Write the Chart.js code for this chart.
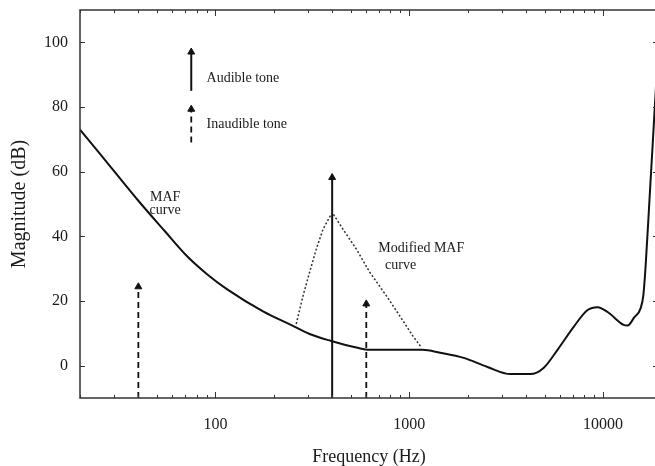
<!DOCTYPE html>
<html lang="en">
<head>
<meta charset="UTF-8" />
<title>MAF curve and masking</title>
<script src="https://cdn.jsdelivr.net/npm/chart.js@4"></script>
<style>
  html, body { margin: 0; padding: 0; background: #fff; overflow: hidden; }
  #wrap { position: absolute; left: 0; top: 0; width: 663px; height: 466px; }
</style>
</head>
<body>
<div id="wrap"><canvas id="chart"></canvas></div>
<script>
// MAF (threshold in quiet) curve
const mafFreq = [20, 25.3, 40, 55, 71, 90.5, 115, 176, 245, 306, 392, 534, 625, 792, 1170, 1440, 1908, 2530, 3327, 4220, 4930, 5820, 7050, 8320, 9370, 10550, 12760, 13380, 14500, 15630, 16150, 16580, 17190, 17600, 18030, 18460, 18910, 19200];
const mafDb   = [73, 65.6, 51, 41.5, 34, 28.3, 23.6, 16.8, 12.6, 9.8, 7.7, 5.6, 4.9, 4.9, 4.9, 4, 2.4, -0.4, -2.6, -2.6, -0.7, 4.9, 12, 17.2, 18.1, 16.6, 12.6, 12.4, 15, 17.8, 22, 31, 47, 57.8, 68.6, 79.4, 90.2, 97];

// modified MAF curve (masking by the 400 Hz tone)
const modFreq = [261, 283, 306, 331, 359, 400, 455, 534, 625, 762, 893, 1043, 1156];
const modDb   = [12.9, 21.6, 28.9, 36, 42.2, 47.4, 42.2, 36, 28.9, 21.6, 15.4, 9.2, 5.6];

// tones drawn as arrows from the bottom of the plot
const toneFreq    = [40, 400, 600];
const toneTop     = [24.4, 58.2, 19.1];
const toneAudible = [false, true, false];

// key arrows (top left)
const keyFreq = 75;
const keyAudible   = [85, 97];
const keyInaudible = [69, 79.3];

const yTicks = [0, 20, 40, 60, 80, 100];
const xTicks = [100, 1000, 10000];
const xMinor = [20, 30, 40, 50, 60, 70, 80, 90, 200, 300, 400, 500, 600, 700, 800, 900,
                2000, 3000, 4000, 5000, 6000, 7000, 8000, 9000];

const INK = '#111';

function arrow(freq, bottom, top, solid) {
  return {
    data: [{ x: freq, y: bottom }, { x: freq, y: top }],
    borderColor: INK,
    borderWidth: solid ? 2 : 1.8,
    borderDash: solid ? [] : [6, 4],
    pointStyle: 'triangle',
    pointRadius: [0, 4],
    pointBackgroundColor: INK,
    pointBorderColor: INK,
    pointBorderWidth: 1,
    tension: 0
  };
}

const datasets = [
  {
    data: mafFreq.map((f, i) => ({ x: f, y: mafDb[i] })),
    borderColor: INK,
    borderWidth: 2,
    pointRadius: 0,
    cubicInterpolationMode: 'monotone'
  },
  {
    data: modFreq.map((f, i) => ({ x: f, y: modDb[i] })),
    borderColor: '#333',
    borderWidth: 1.5,
    borderDash: [2, 2],
    pointRadius: 0,
    tension: 0
  }
];
toneFreq.forEach((f, i) => datasets.push(arrow(f, -10, toneTop[i], toneAudible[i])));
datasets.push(arrow(keyFreq, keyAudible[0], keyAudible[1], true));
datasets.push(arrow(keyFreq, keyInaudible[0], keyInaudible[1], false));

// text notes, placed in data units
const notes = [
  { text: 'Audible tone',   x: 90,  y: 89,   align: 'left' },
  { text: 'Inaudible tone', x: 90,  y: 74.5, align: 'left' },
  { text: 'MAF',            x: 55,  y: 52.2, align: 'center' },
  { text: 'curve',          x: 55,  y: 47.9, align: 'center' },
  { text: 'Modified MAF',   x: 692, y: 36.4, align: 'left' },
  { text: 'curve',          x: 750, y: 31.1, align: 'left' }
];

// frame with inward ticks on all four sides, plus the notes
const framePlugin = {
  id: 'frame',
  afterDraw(chart) {
    const { ctx, chartArea: a, scales: { x, y } } = chart;
    ctx.save();
    ctx.strokeStyle = '#333';
    ctx.lineWidth = 1.5;
    ctx.strokeRect(a.left, a.top, a.right - a.left, a.bottom - a.top);

    ctx.lineWidth = 1;
    ctx.beginPath();
    const xt = (v, len) => {
      const px = Math.round(x.getPixelForValue(v)) + 0.5;
      ctx.moveTo(px, a.bottom); ctx.lineTo(px, a.bottom - len);
      ctx.moveTo(px, a.top); ctx.lineTo(px, a.top + len);
    };
    xMinor.forEach(v => xt(v, 3));
    xTicks.forEach(v => xt(v, 6));
    yTicks.forEach(v => {
      const py = Math.round(y.getPixelForValue(v)) + 0.5;
      ctx.moveTo(a.left, py); ctx.lineTo(a.left + 5, py);
      ctx.moveTo(a.right, py); ctx.lineTo(a.right - 5, py);
    });
    ctx.stroke();

    ctx.fillStyle = '#1a1a1a';
    ctx.font = '14px "Liberation Serif"';
    ctx.textBaseline = 'middle';
    notes.forEach(n => {
      ctx.textAlign = n.align;
      ctx.fillText(n.text, x.getPixelForValue(n.x), y.getPixelForValue(n.y));
    });
    ctx.restore();
  }
};

new Chart(document.getElementById('chart'), {
  type: 'line',
  data: { datasets },
  options: {
    responsive: true,
    maintainAspectRatio: false,
    animation: false,
    layout: { padding: { top: 10, right: 0, bottom: 0, left: 0 } },
    plugins: { legend: { display: false }, tooltip: { enabled: false } },
    scales: {
      x: {
        type: 'logarithmic',
        min: 20,
        max: 19200,
        afterBuildTicks: s => { s.ticks = xTicks.map(v => ({ value: v })); },
        afterFit: s => { s.height = 68; },
        grid: { display: false },
        border: { display: false },
        ticks: {
          autoSkip: false,
          maxRotation: 0,
          padding: 9,
          color: '#1a1a1a',
          font: { family: 'Liberation Serif', size: 16 },
          callback: v => String(v)
        },
        title: {
          display: true,
          text: 'Frequency (Hz)',
          color: '#1a1a1a',
          font: { family: 'Liberation Serif', size: 18, lineHeight: 1 },
          padding: { top: 0, bottom: 0 }
        }
      },
      y: {
        min: -10,
        max: 110,
        afterBuildTicks: s => { s.ticks = yTicks.map(v => ({ value: v })); },
        afterFit: s => { s.width = 80; s.paddingTop = 0; s.paddingBottom = 0; },
        grid: { display: false },
        border: { display: false },
        ticks: {
          padding: 4,
          color: '#1a1a1a',
          font: { family: 'Liberation Serif', size: 16 }
        },
        title: {
          display: true,
          text: 'Magnitude (dB)',
          color: '#1a1a1a',
          font: { family: 'Liberation Serif', size: 20, lineHeight: 1 },
          padding: { top: 10, bottom: 0 }
        }
      }
    }
  },
  plugins: [framePlugin]
});
</script>
</body>
</html>
